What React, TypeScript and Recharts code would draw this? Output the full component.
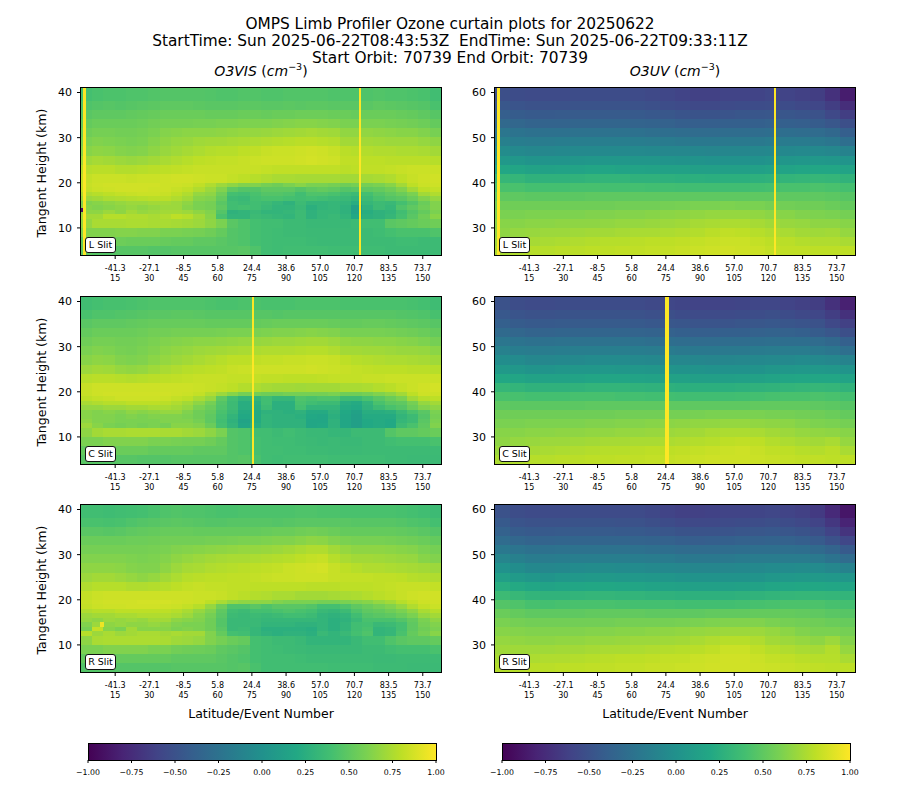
import { Area, AreaChart, Scatter, ScatterChart, XAxis, YAxis } from "recharts";

const FONT = "'DejaVu Sans', sans-serif";

// tick labels
const eventTicks = [15, 30, 45, 60, 75, 90, 105, 120, 135, 150];
const latLabels = ["-41.3", "-27.1", "-8.5", "5.8", "24.4", "38.6", "57.0", "70.7", "83.5", "73.7"];
const visTicks = [10, 20, 30, 40];
const uvTicks = [30, 40, 50, 60];
const barTicks = [-1, -0.75, -0.5, -0.25, 0, 0.25, 0.5, 0.75, 1];
const barEnds = [{ v: -1, top: 1 }, { v: 1, top: 1 }];

const viridis = ["#440154", "#482475", "#414487", "#355f8d", "#2a788e", "#21918c", "#22a884", "#44bf70", "#7ad151", "#bddf26", "#fde725"];

// height bands (km), bottom edges to top edges, top row first in the tables below
const visBands = [[38, 41], [36, 38], [34, 36], [32, 34], [30, 32], [28, 30], [26, 28], [24, 26], [22, 24], [20, 22], [19, 20], [18, 19], [17, 18], [16, 17], [15, 16], [14, 15], [13, 14], [12, 13], [10, 12], [8, 10], [6, 8], [4, 6]];
const uvBands = [[58, 61], [56, 58], [54, 56], [52, 54], [50, 52], [48, 50], [46, 48], [44, 46], [42, 44], [40, 42], [38, 40], [36, 38], [34, 36], [32, 34], [30, 32], [28, 30], [26, 28], [24, 26]];

// values x100
const visL = [
  [40,42,43,43,44,44,45,46,46,46,46,45,44,44,45,45,44,44,45,45,45,45,44,44,44,44,45,44,44,43,42,38],
  [44,46,47,46,47,48,49,50,50,50,49,48,48,48,49,49,48,48,49,48,49,49,48,48,48,48,50,49,48,47,46,42],
  [48,50,50,50,51,52,53,54,54,54,54,53,53,53,54,54,53,54,54,55,55,55,54,54,53,54,54,54,53,52,50,47],
  [52,54,54,54,54,55,57,58,58,58,59,59,60,60,61,61,61,62,63,64,64,63,62,60,60,60,60,59,58,57,55,52],
  [56,58,58,57,57,58,60,63,64,65,65,65,66,67,68,68,69,70,71,72,73,72,71,67,67,67,66,65,64,64,62,59],
  [60,62,61,60,59,60,63,66,68,69,71,72,72,73,74,75,76,77,78,79,79,78,77,72,72,72,71,70,70,70,68,66],
  [64,66,65,63,62,63,66,69,71,73,75,77,78,78,80,81,83,84,84,85,86,85,83,79,78,77,76,76,75,75,74,72],
  [71,73,72,70,69,70,72,74,76,78,80,81,82,82,83,84,85,85,85,86,87,86,85,81,81,80,80,79,79,79,79,78],
  [78,79,79,77,77,78,79,80,81,82,83,83,83,83,83,83,82,81,81,81,81,81,81,79,80,81,81,82,83,84,84,84],
  [82,84,84,84,83,84,84,85,86,86,85,84,84,82,80,78,76,74,74,73,73,73,73,72,72,73,74,76,80,83,85,86],
  [83,85,86,86,86,86,86,85,85,84,81,76,70,66,62,62,58,56,60,64,60,60,58,56,58,58,60,64,72,80,84,85],
  [82,84,85,86,86,86,85,85,83,81,76,70,62,50,46,46,50,50,50,46,50,52,50,46,48,50,52,56,62,72,80,82],
  [76,78,80,82,83,84,84,83,80,76,68,66,56,40,38,42,46,46,44,38,44,44,42,38,36,40,46,50,54,60,72,76],
  [70,72,75,76,77,78,79,79,76,72,64,62,52,36,34,40,42,42,40,38,40,38,36,34,30,36,42,46,48,54,62,68],
  [62,64,66,68,70,70,72,72,70,66,60,58,48,38,36,38,36,32,28,36,30,30,32,30,24,32,36,34,40,46,54,62],
  [64,62,64,66,68,66,68,70,70,64,60,58,50,38,40,38,34,30,30,34,26,30,32,28,14,28,36,32,44,50,56,62],
  [66,66,70,66,72,68,70,72,72,70,66,62,46,28,30,34,30,30,32,36,28,32,32,28,16,24,28,30,38,46,52,60],
  [72,72,78,78,76,76,74,76,80,78,72,64,42,30,30,36,34,32,30,36,28,32,34,30,20,26,28,32,40,48,56,64],
  [68,74,74,74,75,75,74,74,73,72,70,66,60,48,44,40,38,38,36,36,34,34,34,34,36,38,38,48,50,52,54,56],
  [62,62,62,63,63,62,62,60,60,59,58,56,52,46,44,40,38,37,36,36,35,35,35,35,35,36,37,40,42,42,42,44],
  [52,55,55,55,54,54,54,53,52,52,50,50,48,46,44,40,38,37,37,37,36,35,35,35,35,36,36,36,37,37,36,36],
  [50,47,46,47,47,47,46,46,47,47,47,47,47,47,48,44,38,37,38,38,38,38,37,37,37,37,37,36,36,36,36,36],
];

const visC = [
  [38,40,41,41,42,43,44,44,44,44,44,43,42,42,43,43,42,42,42,43,43,43,43,42,42,42,42,42,42,41,40,37],
  [42,44,44,45,46,47,48,48,49,49,48,47,47,47,47,47,47,46,47,47,47,47,47,47,47,47,47,47,46,45,44,41],
  [48,50,50,50,51,52,53,53,53,53,53,52,52,52,52,52,53,54,54,54,54,54,53,52,52,53,53,52,51,50,49,47],
  [52,54,54,54,54,55,57,57,58,58,58,58,59,60,60,60,61,62,62,63,64,63,62,59,59,59,59,58,57,56,54,52],
  [56,58,58,57,57,58,60,62,63,64,65,65,66,67,68,68,69,70,70,71,72,72,70,67,66,66,65,65,64,63,61,58],
  [60,62,61,59,58,60,62,65,67,68,70,71,72,73,74,75,76,76,76,77,78,78,76,72,72,71,71,70,69,69,68,65],
  [64,66,65,62,61,62,65,68,70,72,74,76,78,80,80,81,82,82,83,83,84,84,83,80,78,77,76,75,75,74,73,71],
  [70,72,71,68,67,68,71,74,76,78,79,80,81,83,84,85,85,85,85,85,86,85,84,83,82,81,80,80,80,79,79,78],
  [78,79,79,78,77,78,79,80,81,82,83,83,83,82,82,82,81,81,80,80,80,81,82,82,82,83,83,84,84,84,84,84],
  [83,85,85,85,85,85,85,85,85,85,84,83,82,80,77,75,73,72,72,71,72,72,72,74,74,75,77,79,82,84,86,87],
  [83,85,86,86,86,86,86,86,85,84,82,76,70,64,58,58,56,56,58,58,58,58,60,56,56,58,62,66,72,80,85,85],
  [80,82,83,85,85,85,85,84,82,80,74,68,50,38,30,30,38,32,32,44,42,44,44,36,36,42,48,54,60,72,78,80],
  [74,76,78,78,80,80,80,79,76,72,66,58,46,36,24,26,38,26,26,42,38,36,36,24,22,30,42,48,50,58,68,72],
  [68,68,70,70,72,72,74,74,72,68,60,54,44,36,24,24,36,26,26,40,30,30,30,22,20,28,36,42,46,54,62,66],
  [64,62,64,62,66,64,66,68,68,62,56,52,42,34,22,22,28,28,26,28,22,22,28,20,14,24,24,26,34,42,48,60],
  [64,62,62,60,62,60,62,62,62,60,56,50,40,30,20,22,30,28,28,26,20,18,26,18,12,22,22,22,30,36,46,58],
  [66,62,62,60,60,60,60,62,62,62,58,50,38,28,16,22,30,28,28,28,18,18,28,18,12,20,22,20,32,36,48,60],
  [70,64,60,58,60,58,60,58,64,64,62,54,40,30,18,24,30,28,28,28,18,20,28,18,12,20,22,20,36,42,50,62],
  [66,72,74,74,75,75,75,74,74,72,70,66,60,46,44,38,38,36,38,36,34,34,32,32,36,36,36,46,50,50,52,54],
  [60,60,62,62,62,62,60,60,59,58,58,56,52,46,44,40,38,37,37,36,35,34,35,34,34,36,36,38,40,40,40,42],
  [52,54,54,54,54,54,52,52,52,52,50,50,50,46,44,40,38,38,37,37,36,36,35,35,35,36,36,36,36,36,36,36],
  [48,47,46,47,47,46,46,46,47,47,47,47,47,46,47,42,38,37,38,38,38,38,37,37,37,37,37,36,36,35,35,35],
];

const visR = [
  [38,38,37,38,39,40,42,44,45,44,44,43,42,42,43,43,43,43,43,44,44,43,43,42,42,42,42,42,41,40,38,36],
  [42,42,41,42,44,46,47,48,49,48,47,46,46,47,47,47,47,46,47,48,48,48,48,48,47,47,47,47,46,44,43,40],
  [48,48,47,48,50,51,52,53,53,53,52,52,52,52,52,52,53,54,54,56,57,56,54,52,52,52,52,52,51,50,48,46],
  [54,54,54,54,55,55,56,57,57,57,57,58,58,59,60,60,61,62,62,64,66,65,62,60,59,59,59,58,57,56,54,52],
  [58,58,58,58,58,58,59,60,62,63,64,65,66,67,68,68,69,70,72,74,76,76,72,68,66,66,66,65,64,63,60,58],
  [62,62,62,62,61,60,61,63,66,68,70,72,73,74,74,75,76,77,78,80,82,83,78,74,72,72,71,70,69,68,64,62],
  [66,66,66,65,63,62,62,66,70,73,74,76,77,78,79,80,81,82,84,85,86,87,83,80,78,76,76,75,74,73,72,70],
  [70,72,72,70,68,66,68,72,75,78,79,80,80,81,81,82,83,84,84,85,85,85,83,82,82,82,81,81,80,78,77,76],
  [76,78,78,78,76,76,77,78,80,82,83,82,82,81,81,80,80,80,80,80,79,79,79,80,80,80,81,82,83,83,83,82],
  [82,84,85,85,85,85,85,85,85,85,84,84,83,81,79,77,76,74,74,72,72,72,73,74,75,77,79,81,83,85,86,86],
  [83,85,86,86,86,87,87,87,86,85,84,80,74,68,66,66,66,62,60,60,60,58,58,60,62,64,68,72,78,82,85,86],
  [82,84,85,85,86,86,86,85,84,82,78,68,56,44,44,48,44,48,48,48,46,40,40,44,50,54,58,62,68,76,82,84],
  [76,78,78,80,80,80,80,80,78,74,68,62,50,38,36,40,40,42,44,42,40,34,32,36,44,50,52,56,60,66,74,78],
  [70,72,72,74,74,76,76,76,74,70,64,58,48,36,34,36,34,36,38,38,36,30,28,30,38,46,48,50,54,60,68,72],
  [68,66,70,68,70,68,72,72,66,64,62,56,46,34,34,34,32,32,32,32,32,30,26,28,34,42,42,42,46,52,60,66],
  [62,70,66,68,66,66,68,66,62,60,60,56,46,34,34,34,30,30,30,28,28,30,26,30,38,40,34,36,40,50,58,62],
  [58,82,64,60,72,64,64,64,60,62,60,56,48,34,36,32,26,26,26,26,24,30,26,30,38,42,30,32,40,50,56,60],
  [78,70,74,70,72,74,74,72,74,72,72,62,52,40,38,32,28,26,28,28,26,34,30,34,40,44,30,32,42,52,58,64],
  [66,74,75,75,75,75,75,74,71,70,68,62,58,54,52,40,38,36,36,34,30,30,30,30,34,38,38,44,48,50,50,52],
  [60,60,62,62,62,62,60,60,57,56,55,54,50,48,46,40,38,37,36,35,34,34,34,34,34,36,36,38,40,40,40,42],
  [52,52,52,52,52,52,52,52,50,50,50,50,48,46,44,40,38,38,38,37,36,36,36,36,36,36,35,35,36,36,36,36],
  [46,46,46,46,46,46,46,46,47,47,47,47,47,46,47,42,38,38,38,38,38,38,37,37,37,37,36,36,36,35,35,35],
];

const uvL = [
  [-52,-54,-55,-55,-55,-54,-54,-54,-54,-55,-56,-58,-60,-62,-62,-60,-60,-60,-58,-60,-62,-64,-72,-84],
  [-46,-48,-50,-50,-50,-49,-49,-49,-49,-50,-51,-53,-55,-56,-56,-55,-54,-54,-53,-54,-56,-58,-64,-74],
  [-40,-42,-44,-44,-43,-43,-43,-43,-43,-44,-45,-46,-48,-49,-49,-48,-47,-47,-46,-47,-48,-50,-56,-64],
  [-32,-34,-36,-36,-36,-35,-35,-35,-35,-36,-37,-38,-40,-40,-40,-39,-39,-39,-38,-39,-40,-42,-46,-52],
  [-22,-24,-26,-26,-26,-25,-25,-25,-25,-26,-27,-28,-29,-30,-30,-29,-29,-29,-28,-28,-29,-30,-33,-40],
  [-14,-16,-17,-17,-16,-15,-15,-15,-15,-16,-17,-18,-19,-20,-20,-19,-19,-19,-18,-18,-18,-19,-22,-28],
  [-4,-6,-8,-8,-7,-6,-6,-6,-6,-6,-7,-8,-8,-9,-10,-9,-9,-8,-7,-7,-6,-6,-8,-12],
  [6,5,3,3,3,4,5,5,5,4,4,3,2,2,1,1,1,1,3,4,5,6,5,3],
  [18,17,15,14,15,16,17,17,16,16,15,14,14,12,12,12,12,13,15,16,17,18,18,16],
  [32,31,28,28,28,29,30,30,30,28,28,27,26,26,25,26,26,27,28,30,31,32,31,29],
  [42,42,40,40,40,41,41,40,40,40,39,39,38,38,38,38,38,39,40,42,42,43,42,40],
  [50,50,49,49,49,49,50,50,50,50,50,50,50,50,50,50,50,50,50,50,50,50,49,47],
  [56,56,56,56,56,56,56,56,57,57,57,58,59,60,60,61,60,60,58,57,56,56,54,52],
  [60,60,61,61,61,61,62,62,63,63,64,65,66,67,68,68,68,67,65,64,62,61,60,58],
  [64,64,65,65,66,66,66,67,68,68,69,70,71,73,74,75,75,73,71,69,68,66,66,64],
  [66,68,69,70,70,71,72,72,73,74,74,75,76,77,79,81,80,78,76,74,72,71,72,68],
  [70,72,73,74,75,76,77,78,78,79,80,80,81,82,83,84,84,82,80,79,77,76,76,74],
  [74,76,78,78,79,79,80,80,81,81,82,82,83,84,85,86,85,84,82,81,81,80,80,80],
];

const uvC = [
  [-50,-53,-55,-55,-54,-54,-54,-54,-54,-55,-56,-58,-59,-60,-60,-60,-59,-58,-58,-60,-62,-64,-72,-82],
  [-45,-48,-50,-50,-49,-49,-49,-49,-49,-50,-51,-52,-54,-55,-55,-55,-54,-53,-52,-54,-56,-58,-64,-72],
  [-39,-42,-44,-44,-43,-43,-43,-43,-43,-44,-45,-46,-47,-48,-48,-48,-47,-46,-45,-47,-48,-50,-56,-62],
  [-31,-34,-36,-36,-35,-35,-35,-35,-35,-36,-37,-38,-39,-40,-40,-39,-39,-38,-37,-38,-39,-42,-46,-52],
  [-22,-24,-26,-26,-25,-25,-25,-25,-25,-26,-27,-28,-29,-30,-30,-29,-29,-28,-27,-28,-28,-30,-33,-39],
  [-13,-16,-17,-17,-16,-15,-15,-15,-15,-16,-17,-18,-19,-20,-20,-19,-19,-18,-17,-17,-17,-19,-22,-27],
  [-3,-5,-8,-8,-7,-6,-5,-5,-5,-6,-7,-8,-8,-9,-10,-9,-8,-7,-6,-6,-5,-6,-8,-11],
  [7,5,3,3,4,5,5,6,5,5,4,3,2,2,1,1,1,2,4,5,6,6,5,3],
  [19,17,15,15,15,16,17,17,17,16,15,14,14,12,12,12,13,14,16,17,18,18,18,16],
  [32,30,28,28,28,29,30,30,30,29,28,27,26,26,26,26,27,28,29,30,31,32,31,29],
  [42,41,40,40,40,41,41,41,40,40,39,39,38,38,38,38,39,40,41,42,42,43,42,40],
  [50,49,49,49,49,49,50,50,50,50,50,50,50,50,50,50,50,51,51,51,51,50,49,47],
  [56,56,56,56,56,56,56,56,57,57,57,58,58,59,60,60,60,60,59,58,57,56,54,52],
  [60,60,61,61,61,61,62,62,63,63,64,65,66,67,67,68,68,67,66,65,63,61,60,58],
  [64,64,65,65,66,66,67,67,68,68,69,70,71,72,74,75,75,74,72,70,68,67,66,64],
  [66,68,69,70,70,71,72,73,73,74,74,75,76,77,78,80,81,80,77,75,73,72,74,68],
  [70,72,73,74,75,76,77,78,78,79,80,80,81,82,83,84,85,83,81,80,78,77,79,74],
  [75,76,78,78,79,79,80,80,81,81,82,82,83,84,85,85,85,84,83,82,81,81,80,80],
];

const uvR = [
  [-50,-53,-55,-55,-55,-54,-54,-55,-55,-55,-57,-60,-62,-62,-61,-60,-60,-59,-58,-60,-62,-66,-76,-88],
  [-44,-48,-50,-50,-50,-49,-49,-49,-50,-50,-52,-54,-56,-56,-56,-55,-54,-53,-52,-54,-56,-60,-68,-80],
  [-38,-42,-44,-44,-43,-43,-43,-43,-44,-44,-45,-47,-49,-49,-49,-48,-47,-46,-45,-47,-49,-52,-60,-70],
  [-30,-34,-36,-36,-35,-35,-35,-35,-35,-36,-37,-38,-40,-41,-40,-39,-38,-38,-37,-38,-40,-43,-50,-58],
  [-20,-23,-26,-26,-25,-25,-25,-25,-25,-26,-27,-28,-30,-30,-30,-29,-28,-27,-27,-27,-28,-31,-36,-44],
  [-10,-14,-17,-17,-16,-15,-15,-15,-15,-16,-17,-18,-20,-20,-20,-19,-18,-17,-17,-17,-17,-19,-24,-30],
  [1,-3,-7,-8,-7,-5,-4,-4,-5,-5,-6,-7,-8,-9,-9,-8,-7,-6,-5,-5,-4,-5,-8,-12],
  [12,8,5,3,5,6,7,7,6,6,5,4,3,2,2,2,2,3,5,6,7,7,6,4],
  [24,21,18,16,17,18,19,19,18,17,16,15,14,13,13,13,14,15,17,18,19,19,18,17],
  [36,33,30,29,29,30,31,31,30,30,29,28,27,27,27,27,28,29,30,31,32,32,31,30],
  [46,44,41,40,41,42,42,42,41,40,40,40,39,39,39,39,40,41,42,43,43,43,41,40],
  [54,52,50,50,50,50,51,51,51,51,50,50,50,50,51,51,51,52,52,52,51,50,48,47],
  [60,58,57,57,57,57,57,57,58,58,58,58,59,60,61,62,62,62,60,58,57,56,54,53],
  [64,63,62,62,62,62,63,63,64,64,65,66,67,68,69,70,70,70,68,65,62,60,60,58],
  [68,67,66,66,67,67,68,68,69,70,70,71,72,74,76,78,78,76,72,70,68,66,70,63],
  [71,71,71,71,72,72,73,74,74,75,76,77,78,79,81,84,84,81,78,76,74,73,77,68],
  [74,75,75,76,76,77,78,79,80,80,81,82,82,84,85,86,86,84,82,81,79,78,78,74],
  [77,78,79,79,80,80,81,81,82,82,83,83,84,85,86,86,86,85,84,83,82,81,80,80],
];

// saturated columns and single odd pixels: [first event, last event, bottom km, top km, value x100]
const marksVisL = [[0.8, 2.2, 4, 41, 100], [121.8, 122.8, 4, 41, 100], [0, 0.9, 13.5, 14.5, -90]];
const marksVisC = [[74.9, 75.9, 4, 41, 100]];
const marksVisR = [[8.3, 10, 14, 15, 95]];
const marksUvL = [[0.8, 2.2, 24, 61, 100], [122.4, 123.2, 24, 61, 100]];
const marksUvC = [[74.6, 76.3, 24, 61, 100]];
const marksUvR: number[][] = [];

const EVENTS = 158;
const PLOT_W = 360;
const PLOT_H = 167;

function colorOf(v: number) {
  const t = Math.min(1, Math.max(0, (v / 100 + 1) / 2)) * (viridis.length - 1);
  const i = Math.min(viridis.length - 2, Math.floor(t));
  const a = viridis[i];
  const b = viridis[i + 1];
  const f = t - i;
  const ch = (p: number) => {
    const x = parseInt(a.slice(p, p + 2), 16);
    const y = parseInt(b.slice(p, p + 2), 16);
    return Math.round(x + (y - x) * f);
  };
  return `rgb(${ch(1)},${ch(3)},${ch(5)})`;
}

function buildCells(rows: number[][], bands: number[][], marks: number[][]) {
  const out: any[] = [];
  rows.forEach((row, r) => {
    const w = EVENTS / row.length;
    row.forEach((v, c) => {
      out.push({ x0: c * w, x1: (c + 1) * w, y0: bands[r][0], y1: bands[r][1], v, seam: 0.4 });
    });
  });
  marks.forEach((m) => out.push({ x0: m[0], x1: m[1], y0: m[2], y1: m[3], v: m[4], seam: 0 }));
  return out.map((d) => ({ ...d, xc: (d.x0 + d.x1) / 2, yc: (d.y0 + d.y1) / 2 }));
}

function EventTick({ x, y, payload, index }: any) {
  return (
    <text x={x} y={y} textAnchor="middle" fontSize={8} fontFamily={FONT} fill="#000">
      <tspan x={x} dy={10}>{latLabels[index]}</tspan>
      <tspan x={x} dy={10}>{payload.value}</tspan>
    </text>
  );
}

function Panel({ left, top, rows, bands, marks, domain, ticks, slit, yLabel, xLabel }: any) {
  const cells = buildCells(rows, bands, marks);
  const kmPx = PLOT_H / (domain[1] - domain[0]);
  const evPx = PLOT_W / EVENTS;
  const drawCell = (p: any) => {
    const d = p.payload;
    const w = (d.x1 - d.x0) * evPx + d.seam;
    const h = (d.y1 - d.y0) * kmPx + d.seam;
    return <rect x={p.cx - w / 2} y={p.cy - h / 2} width={w} height={h} fill={colorOf(d.v)} shapeRendering="crispEdges" />;
  };
  return (
    <>
      <div style={{ position: "absolute", left: left - 50, top: top - 4 }}>
        <ScatterChart width={420} height={xLabel ? 235 : 210} margin={{ top: 4, right: 10, bottom: 0, left: 0 }}>
          <XAxis
            type="number"
            dataKey="xc"
            domain={[0, EVENTS]}
            ticks={eventTicks}
            interval={0}
            tick={<EventTick />}
            tickSize={4}
            tickLine={{ stroke: "#000" }}
            axisLine={false}
            height={xLabel ? 64 : 39}
            label={xLabel ? { value: xLabel, position: "insideBottom", offset: 18, fontSize: 12.5, fontFamily: FONT, fill: "#000" } : undefined}
          />
          <YAxis
            type="number"
            dataKey="yc"
            domain={domain}
            ticks={ticks}
            interval={0}
            width={50}
            tickSize={4}
            tickMargin={5}
            tick={{ fontSize: 11, fontFamily: FONT, fill: "#000" }}
            tickLine={{ stroke: "#000" }}
            axisLine={false}
            label={yLabel ? { value: yLabel, angle: -90, position: "insideLeft", offset: 11, dy: 66, fontSize: 12.6, fontFamily: FONT, fill: "#000" } : undefined}
          />
          <Scatter data={cells} shape={drawCell} isAnimationActive={false} />
        </ScatterChart>
      </div>
      <div style={{ position: "absolute", left: left - 1, top: top - 1, width: PLOT_W + 2, height: PLOT_H + 2, border: "1px solid #000", boxSizing: "border-box" }} />
      <div
        style={{
          position: "absolute", left: left + 4, top: top + PLOT_H - 18, width: 31, height: 16, boxSizing: "border-box",
          background: "#fff", border: "1.2px solid #111", borderRadius: 3, fontSize: 9.5, lineHeight: "13px", textAlign: "center", fontFamily: FONT,
        }}
      >
        {slit}
      </div>
    </>
  );
}

function ColorBar({ left, id }: { left: number; id: string }) {
  return (
    <>
      <div style={{ position: "absolute", left: left - 14, top: 744 }}>
        <AreaChart width={376} height={40} data={barEnds} margin={{ top: 0, right: 14, bottom: 0, left: 14 }}>
          <defs>
            <linearGradient id={id} x1="0" y1="0" x2="1" y2="0">
              {viridis.map((c, i) => (
                <stop key={c} offset={`${i * 10}%`} stopColor={c} />
              ))}
            </linearGradient>
          </defs>
          <XAxis
            type="number"
            dataKey="v"
            domain={[-1, 1]}
            ticks={barTicks}
            interval={0}
            tickSize={3}
            tickMargin={6}
            tickLine={{ stroke: "#000" }}
            axisLine={false}
            height={24}
            tick={{ fontSize: 7.8, fontFamily: FONT, fill: "#000" }}
            tickFormatter={(v: number) => v.toFixed(2).replace("-", "\u2212")}
          />
          <YAxis hide domain={[0, 1]} />
          <Area type="linear" dataKey="top" stroke="none" fill={`url(#${id})`} fillOpacity={1} dot={false} isAnimationActive={false} />
        </AreaChart>
      </div>
      <div style={{ position: "absolute", left: left, top: 743, width: 349, height: 18, border: "1px solid #000", boxSizing: "border-box" }} />
    </>
  );
}

const titleStyle: any = { position: "absolute", left: 0, width: 900, textAlign: "center", fontFamily: FONT, fontSize: 15.35, lineHeight: "18px", color: "#000" };
const subStyle: any = { position: "absolute", top: 62, width: 360, textAlign: "center", fontFamily: FONT, fontSize: 14, lineHeight: "18px", color: "#000" };

export default function App() {
  return (
    <div style={{ position: "absolute", left: 0, top: 0, width: 900, height: 800, background: "#fff", overflow: "hidden" }}>
      <div style={{ ...titleStyle, top: 15 }}>OMPS Limb Profiler Ozone curtain plots for 20250622</div>
      <div style={{ ...titleStyle, top: 32 }}>StartTime: Sun 2025-06-22T08:43:53Z&nbsp; EndTime: Sun 2025-06-22T09:33:11Z</div>
      <div style={{ ...titleStyle, top: 49 }}>Start Orbit: 70739 End Orbit: 70739</div>
      <div style={{ ...subStyle, left: 81 }}><i>O3VIS</i> (<i>cm</i><sup style={{ fontSize: 9.5, lineHeight: 0 }}>−3</sup>)</div>
      <div style={{ ...subStyle, left: 495 }}><i>O3UV</i> (<i>cm</i><sup style={{ fontSize: 9.5, lineHeight: 0 }}>−3</sup>)</div>

      <Panel left={81} top={88} rows={visL} bands={visBands} marks={marksVisL} domain={[4, 41]} ticks={visTicks} slit="L Slit" yLabel="Tangent Height (km)" />
      <Panel left={81} top={297} rows={visC} bands={visBands} marks={marksVisC} domain={[4, 41]} ticks={visTicks} slit="C Slit" yLabel="Tangent Height (km)" />
      <Panel left={81} top={505} rows={visR} bands={visBands} marks={marksVisR} domain={[4, 41]} ticks={visTicks} slit="R Slit" yLabel="Tangent Height (km)" xLabel="Latitude/Event Number" />
      <Panel left={495} top={88} rows={uvL} bands={uvBands} marks={marksUvL} domain={[24, 61]} ticks={uvTicks} slit="L Slit" />
      <Panel left={495} top={297} rows={uvC} bands={uvBands} marks={marksUvC} domain={[24, 61]} ticks={uvTicks} slit="C Slit" />
      <Panel left={495} top={505} rows={uvR} bands={uvBands} marks={marksUvR} domain={[24, 61]} ticks={uvTicks} slit="R Slit" xLabel="Latitude/Event Number" />

      <ColorBar left={88} id="cbLeft" />
      <ColorBar left={502} id="cbRight" />
    </div>
  );
}
